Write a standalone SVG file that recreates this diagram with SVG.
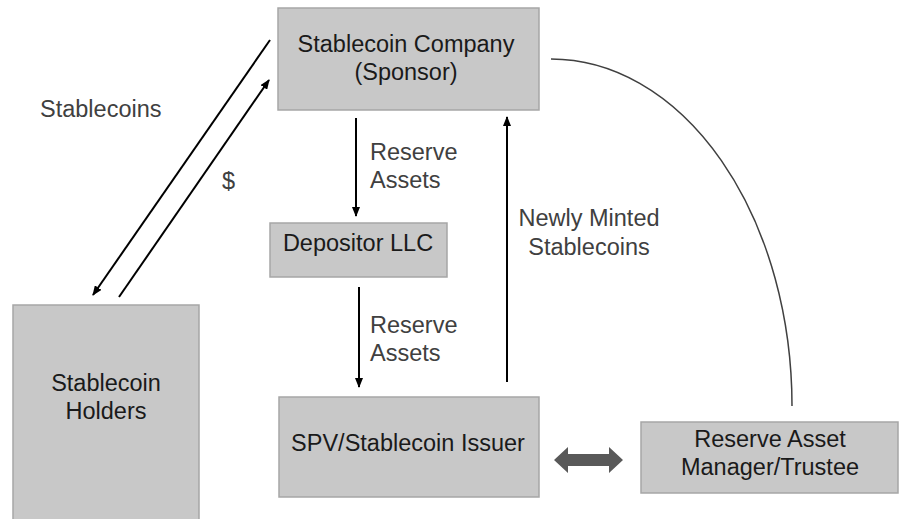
<svg xmlns="http://www.w3.org/2000/svg" width="899" height="519" viewBox="0 0 899 519">
<defs>
<marker id="ah" markerWidth="10" markerHeight="8" refX="9" refY="4" orient="auto" markerUnits="userSpaceOnUse">
<path d="M0,0 L10,4 L0,8 Z" fill="#000"/>
</marker>
<style>
.box{fill:#c8c8c8;stroke:#a6a6a6;stroke-width:1.5}
.nt{font-family:"Liberation Sans",Arial,sans-serif;font-size:23.5px;fill:#1a1a1a;text-anchor:middle}
.lt{font-family:"Liberation Sans",Arial,sans-serif;font-size:23.5px;fill:#404040}
.c{stroke:#000;stroke-width:2;fill:none}
</style>
</defs>
<rect width="899" height="519" fill="#fff"/>
<g id="sponsor">
<rect class="box" x="278" y="8" width="261" height="102"/>
<text class="nt" x="406" y="52">Stablecoin Company</text>
<text class="nt" x="406" y="80">(Sponsor)</text>
</g>
<g id="holders">
<rect class="box" x="13" y="305" width="186" height="216"/>
<text class="nt" x="106" y="391">Stablecoin</text>
<text class="nt" x="106" y="419">Holders</text>
</g>
<g id="depositor">
<rect class="box" x="270" y="223" width="177" height="54"/>
<text class="nt" x="358" y="251">Depositor LLC</text>
</g>
<g id="spv">
<rect class="box" x="279" y="397" width="260" height="100"/>
<text class="nt" x="408" y="451">SPV/Stablecoin Issuer</text>
</g>
<g id="manager">
<rect class="box" x="641" y="422" width="257" height="71"/>
<text class="nt" x="770" y="447">Reserve Asset</text>
<text class="nt" x="770" y="475">Manager/Trustee</text>
</g>
<g id="connectors">
<line class="c" x1="270" y1="40" x2="93" y2="295" marker-end="url(#ah)"/>
<line class="c" x1="119" y1="297" x2="269" y2="80" marker-end="url(#ah)"/>
<line class="c" x1="356" y1="118" x2="356" y2="216" marker-end="url(#ah)"/>
<line class="c" x1="359" y1="287" x2="359" y2="387" marker-end="url(#ah)"/>
<line class="c" x1="507" y1="382" x2="507" y2="117" marker-end="url(#ah)"/>
<path d="M551,59 A241,347 0 0 1 792,406" fill="none" stroke="#404040" stroke-width="1.5"/>
<path d="M554,460 L568,447 L568,454 L609,454 L609,447 L623,460 L609,473 L609,466 L568,466 L568,473 Z" fill="#595959"/>
</g>
<g id="labels">
<text class="lt" x="40" y="117">Stablecoins</text>
<text class="lt" x="222" y="189">$</text>
<text class="lt" x="370" y="160">Reserve</text>
<text class="lt" x="370" y="188">Assets</text>
<text class="lt" x="370" y="333">Reserve</text>
<text class="lt" x="370" y="361">Assets</text>
<text class="lt" x="589" y="226" text-anchor="middle">Newly Minted</text>
<text class="lt" x="589" y="255" text-anchor="middle">Stablecoins</text>
</g>
</svg>
